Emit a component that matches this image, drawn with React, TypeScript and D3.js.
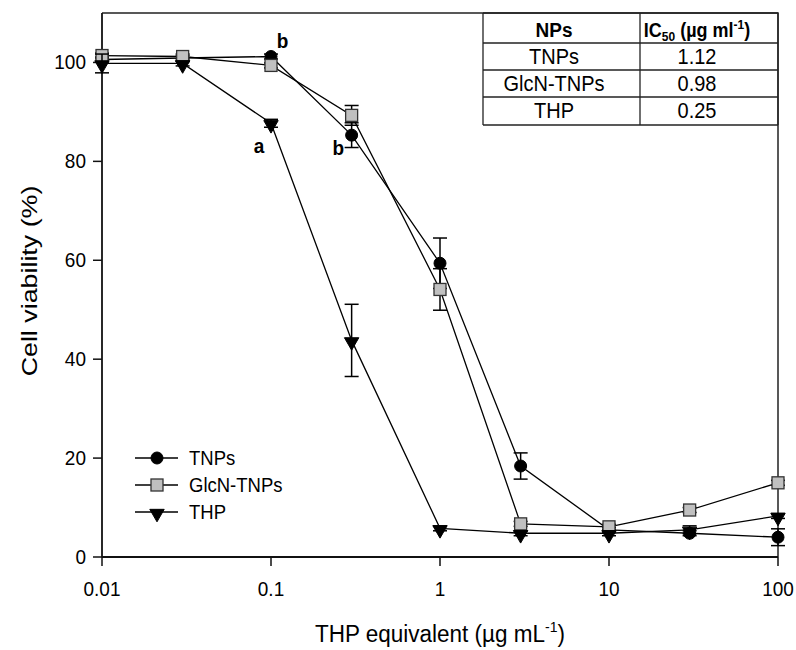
import React from 'react';
import * as d3 from 'd3';

const doses = [0.01, 0.03, 0.1, 0.3, 1, 3, 10, 30, 100];
const tnps = [100.6, 100.9, 101.2, 85.3, 59.4, 18.4, 5.5, 4.8, 4.0];
const tnpsErr = [0.5, 0.5, 0.5, 2.5, 5.1, 2.65, 0.5, 0.5, 1.7];
const glcn = [101.4, 101.2, 99.4, 89.3, 54.1, 6.7, 6.1, 9.5, 15.0];
const glcnErr = [0.5, 0.5, 0.5, 2.0, 4.2, 0.5, 0.5, 0.5, 0.5];
const thp = [99.8, 99.8, 87.7, 43.8, 5.8, 4.8, 4.8, 5.5, 8.3];
const thpErr = [1.9, 0.5, 0.8, 7.3, 0.5, 0.5, 0.5, 0.8, 0.5];

const xTicks = [0.01, 0.1, 1, 10, 100];
const xTickLabels = ['0.01', '0.1', '1', '10', '100'];
const yTicks = [0, 20, 40, 60, 80, 100];

const tableNames = ['TNPs', 'GlcN-TNPs', 'THP'];
const tableIC50 = ['1.12', '0.98', '0.25'];

// letter annotations: [dose, value, text]
const notes: [number, number, string][] = [
  [0.117, 103, 'b'],
  [0.085, 81.6, 'a'],
  [0.25, 81.3, 'b'],
];

const W = 796;
const H = 650;
const m = { left: 102, right: 778, top: 13, bottom: 557 };
const FONT = '"Liberation Sans", Arial, sans-serif';
const SY = 1.1; // the reference text is a little stretched vertically

const x = d3.scaleLog().domain([0.01, 100]).range([m.left, m.right]);
const y = d3.scaleLinear().domain([0, 110]).range([m.bottom, m.top]);

type Shape = 'circle' | 'square' | 'tri';

function Marker({ shape, cx, cy }: { shape: Shape; cx: number; cy: number }) {
  if (shape === 'circle') return <circle cx={cx} cy={cy} r={6} fill="#000" stroke="#000" strokeWidth={1} />;
  if (shape === 'square')
    return <rect x={cx - 6} y={cy - 6} width={12} height={12} fill="#c0c0c0" stroke="#333" strokeWidth={1.3} />;
  const tri = d3.symbol(d3.symbolTriangle, 90)() as string;
  return <path d={tri} transform={`translate(${cx},${cy + 1.5}) rotate(180)`} fill="#000" stroke="#000" strokeWidth={1} />;
}

function Txt({ x: tx, y: ty, size, anchor = 'middle', weight = 'normal', children }: any) {
  return (
    <text
      transform={`translate(${tx},${ty}) scale(1,${SY})`}
      fontSize={size}
      fontFamily={FONT}
      fontWeight={weight}
      textAnchor={anchor}
      fill="#000"
    >
      {children}
    </text>
  );
}

function Series({ vals, errs, shape }: { vals: number[]; errs: number[]; shape: Shape }) {
  const line = d3
    .line<number>()
    .x((_, i) => x(doses[i]))
    .y((d) => y(d));
  return (
    <g>
      <path d={line(vals) as string} fill="none" stroke="#000" strokeWidth={1.3} />
      {vals.map((v, i) => {
        const cx = x(doses[i]);
        const y1 = y(v + errs[i]);
        const y2 = y(v - errs[i]);
        return (
          <g key={i} stroke="#000" strokeWidth={1.5}>
            <line x1={cx} x2={cx} y1={y1} y2={y2} />
            <line x1={cx - 7} x2={cx + 7} y1={y1} y2={y1} />
            <line x1={cx - 7} x2={cx + 7} y1={y2} y2={y2} />
          </g>
        );
      })}
      {vals.map((v, i) => (
        <Marker key={i} shape={shape} cx={x(doses[i])} cy={y(v)} />
      ))}
    </g>
  );
}

export default function App() {
  const legend: [string, Shape][] = [
    ['TNPs', 'circle'],
    ['GlcN-TNPs', 'square'],
    ['THP', 'tri'],
  ];
  const tbl = { left: 483, mid: 640, right: 778, rows: [13, 43, 70, 97, 125] };

  return (
    <svg width={W} height={H} style={{ position: 'absolute', left: 0, top: 0, background: '#fff' }}>
      <rect width={W} height={H} fill="#fff" />

      {/* frame */}
      <path
        d={`M${m.left},${m.top} H${m.right} V${m.bottom}`}
        fill="none"
        stroke="#222"
        strokeWidth={1.5}
      />
      <line x1={m.left} x2={m.left} y1={m.top} y2={m.bottom} stroke="#111" strokeWidth={1.8} />
      <line x1={m.left} x2={m.right} y1={m.bottom} y2={m.bottom} stroke="#111" strokeWidth={1.8} />

      {/* x axis */}
      {xTicks.map((t, i) => (
        <g key={t}>
          <line x1={x(t)} x2={x(t)} y1={m.bottom} y2={m.bottom + 9} stroke="#111" strokeWidth={1.5} />
          <Txt x={x(t)} y={596} size={19}>
            {xTickLabels[i]}
          </Txt>
        </g>
      ))}
      <Txt x={x(1)} y={642} size={22.5}>
        THP equivalent (µg mL
        <tspan fontSize={14} dy={-9}>-1</tspan>
        <tspan dy={9}>)</tspan>
      </Txt>

      {/* y axis */}
      {yTicks.map((t) => (
        <g key={t}>
          <line x1={m.left - 9} x2={m.left} y1={y(t)} y2={y(t)} stroke="#111" strokeWidth={1.5} />
          <Txt x={86} y={y(t) + 7} size={19} anchor="end">
            {t}
          </Txt>
        </g>
      ))}
      <text
        transform={`translate(37,${(m.top + m.bottom) / 2 - 4}) rotate(-90) scale(1.22,1)`}
        fontSize={22}
        fontFamily={FONT}
        textAnchor="middle"
        fill="#000"
      >
        Cell viability (%)
      </text>

      {/* series */}
      <Series vals={tnps} errs={tnpsErr} shape="circle" />
      <Series vals={glcn} errs={glcnErr} shape="square" />
      <Series vals={thp} errs={thpErr} shape="tri" />

      {/* annotations */}
      {notes.map(([d, v, s], i) => (
        <Txt key={i} x={x(d)} y={y(v)} size={19} weight="bold">
          {s}
        </Txt>
      ))}

      {/* legend */}
      {legend.map(([name, shape], i) => {
        const ly = 458 + i * 27;
        return (
          <g key={name}>
            <line x1={135} x2={178} y1={ly} y2={ly} stroke="#000" strokeWidth={1.3} />
            <Marker shape={shape} cx={157} cy={ly} />
            <Txt x={189} y={ly + 7} size={18.5} anchor="start">
              {name}
            </Txt>
          </g>
        );
      })}

      {/* IC50 table */}
      <g stroke="#222" strokeWidth={1.3}>
        <line x1={tbl.left} x2={tbl.left} y1={tbl.rows[0]} y2={tbl.rows[4]} />
        <line x1={tbl.mid} x2={tbl.mid} y1={tbl.rows[0]} y2={tbl.rows[4]} />
        <line x1={tbl.right} x2={tbl.right} y1={tbl.rows[0]} y2={tbl.rows[4]} />
        {tbl.rows.map((r) => (
          <line key={r} x1={tbl.left} x2={tbl.right} y1={r} y2={r} />
        ))}
      </g>
      <Txt x={554} y={37} size={19} weight="bold">
        NPs
      </Txt>
      <Txt x={697} y={37} size={18} weight="bold">
        IC
        <tspan fontSize={12} dy={4}>50</tspan>
        <tspan dy={-4}> (µg ml</tspan>
        <tspan fontSize={12} dy={-7}>-1</tspan>
        <tspan dy={7}>)</tspan>
      </Txt>
      {tableNames.map((n, i) => (
        <g key={n}>
          <Txt x={554} y={64 + i * 27} size={20}>
            {n}
          </Txt>
          <Txt x={697} y={64 + i * 27} size={20}>
            {tableIC50[i]}
          </Txt>
        </g>
      ))}
    </svg>
  );
}
